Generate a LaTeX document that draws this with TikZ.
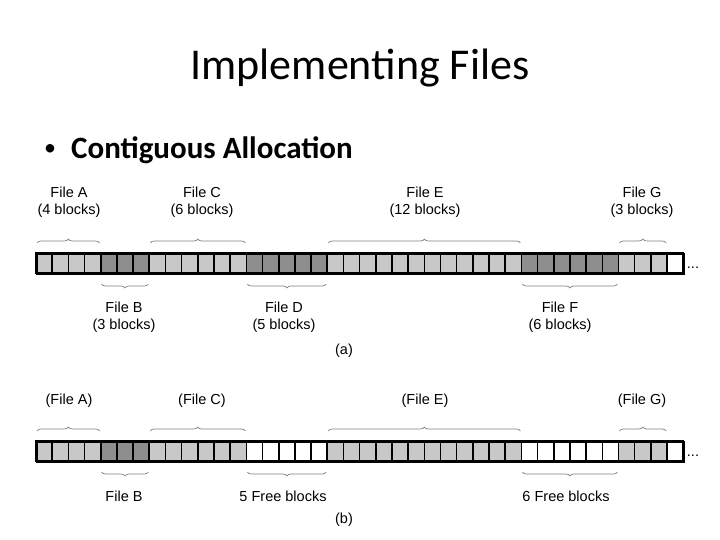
\documentclass[tikz,border=0pt]{standalone}
\usepackage{fontspec}
\setmainfont{Carlito}
\newfontfamily\lab{Liberation Sans}
\usetikzlibrary{decorations.pathreplacing}
\definecolor{lite}{HTML}{C8C8C8}
\definecolor{dark}{HTML}{8E8E8E}
\tikzset{
 blk/.style={draw=black,line width=1.6pt},
 outer/.style={draw=black,line width=1.8pt},
 br/.style={draw=gray,line width=0.7pt,decorate,decoration={brace,amplitude=4pt}},
 lbl/.style={font=\lab\fontsize{14.5}{17.5}\selectfont,align=center,inner sep=0pt},
}
\begin{document}
\begin{tikzpicture}[x=1pt,y=-1pt]
\useasboundingbox (0,0) rectangle (720,540);
\node (title) at (360,68) {\fontsize{44}{48}\selectfont Implementing Files};
\node[anchor=west,inner sep=0pt] (bul) at (44,150) {\fontsize{24}{28}\selectfont\textbullet};
\node[anchor=west,inner sep=0pt] (bultxt) at (71,150) {\fontsize{31}{36}\selectfont\textbf{Contiguous Allocation}};
\def\w{16.18}
\foreach \i in {0,...,39}{
  \pgfmathsetmacro\c{(\i>=4 && \i<=6) || (\i>=13 && \i<=17) || (\i>=30 && \i<=35) ? 1 : 0}
  \pgfmathsetmacro\xa{36+\i*\w}
  \ifnum\i=39 \def\fc{white}\else\ifdim\c pt>0.5pt \def\fc{dark}\else\def\fc{lite}\fi\fi
  \path[blk,fill=\fc] (\xa,253) rectangle ++(\w,20);
  \pgfmathsetmacro\cb{(\i>=4 && \i<=6) ? 1 : ((\i>=13 && \i<=17) || (\i>=30 && \i<=35) ? 2 : 0)}
  \ifnum\i=39 \def\fb{white}\else\ifdim\cb pt>1.5pt \def\fb{white}\else\ifdim\cb pt>0.5pt \def\fb{dark}\else\def\fb{lite}\fi\fi\fi
  \path[blk,fill=\fb] (\xa,441) rectangle ++(\w,20);
}
\node[outer,minimum width=647.2pt,minimum height=20pt,inner sep=0pt,anchor=north west] (stripA) at (36,253) {};
\node[outer,minimum width=647.2pt,minimum height=20pt,inner sep=0pt,anchor=north west] (stripB) at (36,441) {};
\node[lbl] (dotsA) at (693,268) {...};
\node[lbl] (dotsB) at (693,456) {...};
\foreach \s/\e/\up/\yo in {0/4/1/0,7/13/1/0,18/30/1/0,36/39/1/0,4/7/0/0,13/18/0/0,30/36/0/0,
                           0/4/1/188,7/13/1/188,18/30/1/188,36/39/1/188,4/7/0/188,13/18/0/188,30/36/0/188}{
  \pgfmathsetmacro\xs{36+\s*\w+1}
  \pgfmathsetmacro\xe{36+\e*\w-1}
  \ifnum\up=1
    \draw[br] (\xs,243+\yo) -- (\xe,243+\yo);
  \else
    \draw[br,decoration={mirror}] (\xs,284+\yo) -- (\xe,284+\yo);
  \fi
}
\node[lbl] (la) at (69,202) {File A\\(4 blocks)};
\node[lbl] (lc) at (202,202) {File C\\(6 blocks)};
\node[lbl] (le) at (425,202) {File E\\(12 blocks)};
\node[lbl] (lg) at (642,202) {File G\\(3 blocks)};
\node[lbl] (lb) at (124,317) {File B\\(3 blocks)};
\node[lbl] (ld) at (284,317) {File D\\(5 blocks)};
\node[lbl] (lf) at (560,317) {File F\\(6 blocks)};
\node[lbl] (capa) at (344,351) {(a)};
\node[lbl] (la2) at (69,401) {(File A)};
\node[lbl] (lc2) at (202,401) {(File C)};
\node[lbl] (le2) at (425,401) {(File E)};
\node[lbl] (lg2) at (642,401) {(File G)};
\node[lbl] (lb2) at (124,496) {File B};
\node[lbl] (ld2) at (283,496) {5 Free blocks};
\node[lbl] (lf2) at (566,496) {6 Free blocks};
\node[lbl] (capb) at (344,520) {(b)};
\end{tikzpicture}
\end{document}
